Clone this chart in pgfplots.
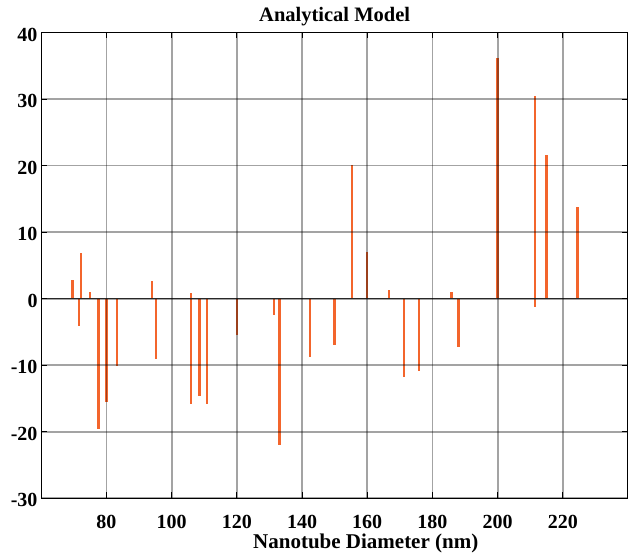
\documentclass[border=0pt]{standalone}
\usepackage{fontspec}
\setmainfont{Liberation Serif}
\usepackage{pgfplots}
\pgfplotsset{compat=1.18}
\definecolor{stem}{RGB}{243,101,44}

\begin{document}
\begin{tikzpicture}
\begin{axis}[
  scale only axis,
  width=586.7bp, height=465.8bp,
  xmin=60, xmax=240, ymin=-30, ymax=40,
  xtick={80,100,...,220},
  ytick={-30,-20,...,40},
  tick align=inside,
  major tick length=6bp,
  tick style={black, line width=1bp},
  axis line style={black, line width=1.1bp},
  grid=major,
  major grid style={black, opacity=0.36, line width=1.8bp},
  axis on top,
  /pgf/number format/assume math mode=true,
  ticklabel style={font=\bfseries\fontsize{20bp}{24bp}\selectfont, inner sep=0pt},
  xticklabel style={anchor=base, yshift=-29.8bp},
  yticklabel style={anchor=east, xshift=-3.6bp, yshift=-2bp},
  title={Analytical Model},
  title style={font=\bfseries\fontsize{20.5bp}{24bp}\selectfont,
    at={(axis description cs:0.5,1)}, anchor=base, yshift=5.2bp, inner sep=0pt},
  xlabel={Nanotube Diameter (nm)},
  xlabel style={font=\bfseries\fontsize{21bp}{25bp}\selectfont,
    at={(axis description cs:0.553,0)}, anchor=base, yshift=-50.5bp, inner sep=0pt},
]
% stems: deviation of each nanotube diameter
\addplot[ycomb, stem, line width=2.4bp, mark=none] coordinates {
  (69.6,2.8) (71.6,-4.1) (72.2,6.9) (74.9,1.0) (77.6,-19.6) (80.0,-15.6)
  (83.3,-10.1) (94.0,2.6) (95.1,-9.0) (106.0,0.8) (106.0,-15.8)
  (108.5,-14.6) (110.9,-15.9) (120.0,-5.4) (131.4,-2.5) (133.1,-22.0)
  (142.5,-8.8) (149.9,-6.9) (155.4,20.1) (160.0,7.0) (166.6,1.3)
  (171.3,-11.7) (175.9,-10.8) (185.9,1.0) (188.0,-7.3) (200.0,36.2)
  (211.4,30.4) (211.4,-1.2) (215.0,21.6) (224.5,13.8)
};
% baseline
\addplot[black!75, line width=1.6bp] coordinates {(60,0) (240,0)};
\end{axis}
\pgfresetboundingbox
\path[use as bounding box] (current axis.south west) ++(-41.3bp,-57.7bp) rectangle ++(628bp,556bp);
\end{tikzpicture}
\end{document}
